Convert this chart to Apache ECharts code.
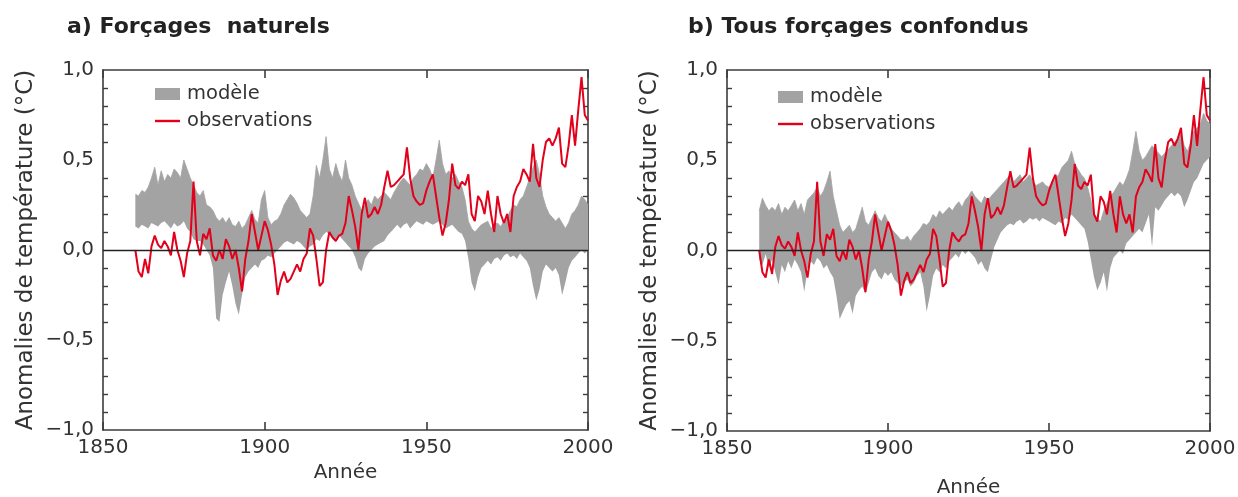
<!DOCTYPE html>
<html>
<head>
<meta charset="utf-8">
<script src="https://cdn.jsdelivr.net/npm/echarts@6/dist/echarts.min.js"></script>
<style>
  html, body { margin: 0; padding: 0; background: #fff; }
  #chart { width: 1238px; height: 497px; }
</style>
</head>
<body>
<div id="chart"></div>
<script>
// axe des années 1850 -> 2000 ; les données commencent en 1860
const axisYears = Array.from({ length: 151 }, (_, i) => String(1850 + i));
const firstYear = 1860;

// anomalies observées (°C), 1860 -> 2000, identiques pour les deux panneaux
const observations = [
  0.00, -0.12, -0.15, -0.05, -0.13, 0.02, 0.08, 0.03, 0.01, 0.05,
  0.02, -0.03, 0.10, 0.00, -0.06, -0.15, -0.02, 0.05, 0.38, 0.05,
  -0.03, 0.09, 0.06, 0.12, -0.03, -0.06, 0.00, -0.05, 0.06, 0.02,
  -0.05, 0.00, -0.10, -0.23, -0.05, 0.05, 0.20, 0.10, 0.00, 0.08,
  0.16, 0.11, 0.03, -0.08, -0.25, -0.17, -0.12, -0.18, -0.16, -0.12,
  -0.08, -0.12, -0.05, -0.02, 0.12, 0.08, -0.05, -0.20, -0.18, 0.00,
  0.10, 0.07, 0.05, 0.08, 0.09, 0.15, 0.30, 0.22, 0.13, 0.00,
  0.20, 0.29, 0.18, 0.20, 0.24, 0.20, 0.25, 0.35, 0.44, 0.35,
  0.36, 0.38, 0.40, 0.42, 0.57, 0.40, 0.30, 0.27, 0.25, 0.26,
  0.33, 0.38, 0.42, 0.30, 0.18, 0.08, 0.15, 0.28, 0.48, 0.36,
  0.34, 0.38, 0.36, 0.42, 0.20, 0.16, 0.30, 0.27, 0.20, 0.33,
  0.20, 0.10, 0.30, 0.20, 0.15, 0.20, 0.10, 0.30, 0.35, 0.38,
  0.45, 0.42, 0.38, 0.59, 0.40, 0.35, 0.50, 0.60, 0.62, 0.58,
  0.62, 0.68, 0.48, 0.46, 0.58, 0.75, 0.58, 0.78, 0.96, 0.75,
  0.72
];

// a) modèle, forçages naturels : bas / haut de l'enveloppe
const naturelsBas = [
  0.13, 0.12, 0.14, 0.13, 0.12, 0.15, 0.14, 0.13, 0.15, 0.16,
  0.14, 0.12, 0.15, 0.13, 0.14, 0.16, 0.12, 0.10, 0.06, 0.05,
  0.05, 0.03, 0.00, -0.03, -0.10, -0.38, -0.40, -0.25, -0.18, -0.12,
  -0.20, -0.30, -0.36, -0.25, -0.15, -0.12, -0.10, -0.08, -0.10, -0.06,
  -0.05, -0.03, -0.04, -0.02, 0.00, 0.02, 0.04, 0.05, 0.04, 0.03,
  0.05, 0.04, 0.02, 0.00, 0.02, 0.03, 0.06, 0.05, 0.08, 0.10,
  0.09, 0.06, 0.05, 0.08, 0.06, 0.04, 0.02, 0.00, -0.04, -0.10,
  -0.12, -0.05, -0.02, 0.00, 0.02, 0.03, 0.04, 0.05, 0.08, 0.10,
  0.12, 0.14, 0.12, 0.14, 0.15, 0.12, 0.14, 0.16, 0.15, 0.14,
  0.16, 0.15, 0.14, 0.15, 0.16, 0.14, 0.12, 0.13, 0.14, 0.12,
  0.10, 0.09, 0.05, -0.05, -0.18, -0.23, -0.15, -0.10, -0.08, -0.06,
  -0.08, -0.05, -0.04, -0.06, -0.03, -0.02, -0.04, -0.03, -0.05, -0.02,
  -0.04, -0.06, -0.10, -0.20, -0.28, -0.22, -0.12, -0.08, -0.10, -0.12,
  -0.10, -0.14, -0.25, -0.18, -0.10, -0.06, -0.04, -0.02, 0.00, -0.02,
  0.00
];
const naturelsHaut = [
  0.31, 0.30, 0.33, 0.32, 0.35, 0.40, 0.46, 0.36, 0.44, 0.38,
  0.42, 0.40, 0.45, 0.43, 0.40, 0.50, 0.45, 0.40, 0.36, 0.32,
  0.30, 0.33, 0.25, 0.24, 0.22, 0.18, 0.16, 0.18, 0.15, 0.18,
  0.14, 0.13, 0.16, 0.12, 0.14, 0.18, 0.22, 0.17, 0.15, 0.28,
  0.33, 0.18, 0.14, 0.16, 0.17, 0.20, 0.25, 0.28, 0.31, 0.29,
  0.26, 0.22, 0.20, 0.18, 0.20, 0.30, 0.47, 0.40, 0.50, 0.63,
  0.45, 0.40, 0.48, 0.42, 0.38, 0.50, 0.40, 0.36, 0.30, 0.26,
  0.22, 0.25, 0.28, 0.25, 0.30, 0.28, 0.30, 0.32, 0.30, 0.28,
  0.32, 0.35, 0.38, 0.40, 0.38, 0.36, 0.40, 0.42, 0.45, 0.44,
  0.48, 0.45, 0.40, 0.50, 0.61, 0.48, 0.42, 0.44, 0.40, 0.42,
  0.38, 0.35, 0.28, 0.16, 0.12, 0.10, 0.12, 0.14, 0.15, 0.16,
  0.12, 0.14, 0.15, 0.13, 0.16, 0.18, 0.22, 0.25, 0.24, 0.28,
  0.30, 0.35, 0.40, 0.46, 0.50, 0.42, 0.30, 0.24, 0.20, 0.18,
  0.16, 0.18, 0.15, 0.12, 0.15, 0.20, 0.22, 0.25, 0.30, 0.28,
  0.25
];

// b) modèle, tous forçages : bas / haut de l'enveloppe
const tousBas = [
  -0.05, -0.08, -0.02, -0.10, -0.05, -0.12, -0.19, -0.08, -0.12, -0.06,
  -0.10, -0.05, -0.08, -0.12, -0.23, -0.10, -0.06, -0.08, -0.04, -0.06,
  -0.10, -0.08, -0.12, -0.15, -0.25, -0.38, -0.34, -0.30, -0.28, -0.35,
  -0.25, -0.22, -0.20, -0.24, -0.18, -0.12, -0.10, -0.14, -0.16, -0.12,
  -0.14, -0.12, -0.16, -0.18, -0.20, -0.18, -0.16, -0.20, -0.18, -0.14,
  -0.12, -0.20, -0.34, -0.25, -0.14, -0.10, -0.12, -0.08, -0.10, -0.06,
  -0.04, -0.02, -0.04, 0.00, -0.02, 0.00, -0.02, -0.04, -0.08, -0.06,
  -0.10, -0.12, -0.05, 0.02, 0.06, 0.10, 0.12, 0.14, 0.15, 0.14,
  0.16, 0.17, 0.15, 0.16, 0.18, 0.17, 0.18, 0.16, 0.18, 0.17,
  0.16, 0.15, 0.14, 0.16, 0.15, 0.18, 0.17, 0.20, 0.18, 0.16,
  0.14, 0.12, 0.05, -0.05, -0.15, -0.22, -0.18, -0.12, -0.23, -0.10,
  -0.04, -0.02, 0.00, -0.02, 0.04, 0.06, 0.08, 0.10, 0.12, 0.10,
  0.15, 0.20, 0.02, 0.24, 0.22, 0.25, 0.28, 0.30, 0.32, 0.30,
  0.32, 0.30, 0.24, 0.28, 0.33, 0.38, 0.40, 0.44, 0.48, 0.50,
  0.52
];
const tousHaut = [
  0.22, 0.29, 0.25, 0.22, 0.24, 0.22, 0.26, 0.20, 0.24, 0.22,
  0.25, 0.28, 0.22, 0.26, 0.20, 0.28, 0.30, 0.32, 0.35, 0.30,
  0.33, 0.38, 0.44, 0.30, 0.22, 0.14, 0.10, 0.12, 0.14, 0.10,
  0.12, 0.18, 0.24, 0.16, 0.14, 0.18, 0.22, 0.18, 0.16, 0.20,
  0.16, 0.12, 0.10, 0.08, 0.06, 0.06, 0.08, 0.05, 0.08, 0.10,
  0.12, 0.15, 0.14, 0.16, 0.20, 0.18, 0.22, 0.20, 0.22, 0.24,
  0.22, 0.25, 0.27, 0.24, 0.28, 0.30, 0.33, 0.30, 0.28, 0.26,
  0.30, 0.28, 0.30, 0.32, 0.34, 0.36, 0.38, 0.40, 0.42, 0.38,
  0.40, 0.42, 0.38, 0.40, 0.42, 0.38, 0.36, 0.37, 0.38, 0.36,
  0.35, 0.38, 0.40, 0.42, 0.46, 0.48, 0.50, 0.55, 0.48, 0.45,
  0.42, 0.40, 0.35, 0.28, 0.20, 0.18, 0.16, 0.22, 0.26, 0.30,
  0.32, 0.35, 0.38, 0.36, 0.40, 0.45, 0.55, 0.66, 0.55, 0.50,
  0.52, 0.55, 0.58, 0.56, 0.54, 0.52, 0.54, 0.56, 0.58, 0.60,
  0.62, 0.65, 0.58, 0.55, 0.60, 0.66, 0.68, 0.70, 0.76, 0.72,
  0.70
];

const titles = ['a) Forçages  naturels', 'b) Tous forçages confondus'];
const yTicks = ['−1,0', '−0,5', '0,0', '0,5', '1,0'];

const FONT = 'DejaVu Sans';
const grey = '#a3a3a3';
const red = '#e2001a';
const ink = '#3c3c3c';

const grids = [
  { left: 103, top: 70, width: 485, height: 360, outerBoundsMode: 'none', containLabel: false },
  { left: 727, top: 70, width: 483, height: 361, outerBoundsMode: 'none', containLabel: false }
];

// remplit 1850-1859 de vides pour caler les séries sur l'axe des années
const lead = Array(firstYear - 1850).fill(null);
const onAxis = arr => lead.concat(arr);
const spread = (lo, hi) => lead.concat(hi.map((h, i) => +(h - lo[i]).toFixed(2)));

const every50 = i => i % 50 === 0;
const axisLine = { show: true, onZero: false, lineStyle: { color: ink, width: 1.6 } };

function xAxes(g, nameGap) {
  return [
    {
      gridIndex: g, type: 'category', data: axisYears, boundaryGap: false, position: 'bottom',
      axisLine: axisLine,
      axisTick: { inside: true, length: 8, interval: every50, lineStyle: { color: ink, width: 1.6 } },
      axisLabel: { fontFamily: FONT, fontSize: 20, color: '#333', margin: 8, interval: every50 },
      splitLine: { show: false },
      name: 'Année', nameLocation: 'middle', nameGap: nameGap,
      nameTextStyle: { fontFamily: FONT, fontSize: 20, color: '#333' }
    },
    {
      gridIndex: g, type: 'category', data: axisYears, boundaryGap: false, position: 'top',
      axisLine: axisLine,
      axisTick: { inside: true, length: 8, interval: every50, lineStyle: { color: ink, width: 1.6 } },
      axisLabel: { show: false },
      splitLine: { show: false }
    }
  ];
}

function yAxes(g) {
  const ticks = {
    axisLine: axisLine,
    axisTick: { inside: true, length: 8, lineStyle: { color: ink, width: 1.6 } },
    minorTick: { show: true, splitNumber: 5, length: 5, lineStyle: { color: ink, width: 1.4 } },
    splitLine: { show: false }
  };
  return [
    Object.assign({
      gridIndex: g, type: 'value', min: -1, max: 1, interval: 0.5, position: 'left',
      axisLabel: {
        fontFamily: FONT, fontSize: 20, color: '#333', margin: 9,
        formatter: v => yTicks[Math.round((v + 1) * 2)]
      },
      name: 'Anomalies de température (°C)', nameLocation: 'middle', nameGap: 65,
      nameTextStyle: { fontFamily: FONT, fontSize: 23, color: '#333' }
    }, ticks),
    Object.assign({
      gridIndex: g, type: 'value', min: -1, max: 1, interval: 0.5, position: 'right',
      axisLabel: { show: false }
    }, ticks)
  ];
}

function panelSeries(g, lo, hi) {
  const ax = { xAxisIndex: g * 2, yAxisIndex: g * 2 };
  return [
    Object.assign({
      type: 'line', data: onAxis(lo), stack: 'env' + g, stackStrategy: 'all',
      symbol: 'none', silent: true, lineStyle: { opacity: 0 }, z: 1
    }, ax),
    Object.assign({
      name: 'modèle', type: 'line', data: spread(lo, hi), stack: 'env' + g, stackStrategy: 'all',
      symbol: 'none', lineStyle: { color: grey, width: 0.8 }, itemStyle: { color: grey },
      areaStyle: { color: grey, opacity: 1 }, z: 1
    }, ax),
    Object.assign({
      name: 'observations', type: 'line', data: onAxis(observations), symbol: 'none',
      lineStyle: { color: red, width: 2 }, itemStyle: { color: red }, z: 3,
      markLine: {
        silent: true, symbol: 'none', label: { show: false },
        lineStyle: { color: '#222', width: 1.3, type: 'solid' },
        data: [{ yAxis: 0 }]
      }
    }, ax)
  ];
}

function legend(left, top) {
  return {
    left: left, top: top, orient: 'vertical', itemWidth: 25, itemHeight: 12, itemGap: 7,
    selectedMode: false,
    data: [
      { name: 'modèle', icon: 'rect' },
      { name: 'observations', icon: 'path://M0,0H25V2.4H0Z' }
    ],
    textStyle: { fontFamily: FONT, fontSize: 19.5, color: '#333', padding: [0, 0, 0, 2] }
  };
}

const chart = echarts.init(document.getElementById('chart'));
chart.setOption({
  animation: false,
  backgroundColor: '#fff',
  title: [
    { text: titles[0], left: 62, top: 11, textStyle: { fontFamily: FONT, fontSize: 22, fontWeight: 'bold', color: '#222' } },
    { text: titles[1], left: 683, top: 11, textStyle: { fontFamily: FONT, fontSize: 22, fontWeight: 'bold', color: '#222' } }
  ],
  legend: [legend(150, 79), legend(773, 82)],
  grid: grids,
  xAxis: xAxes(0, 33).concat(xAxes(1, 47)),
  yAxis: yAxes(0).concat(yAxes(1)),
  series: panelSeries(0, naturelsBas, naturelsHaut).concat(panelSeries(1, tousBas, tousHaut))
});
</script>
</body>
</html>
